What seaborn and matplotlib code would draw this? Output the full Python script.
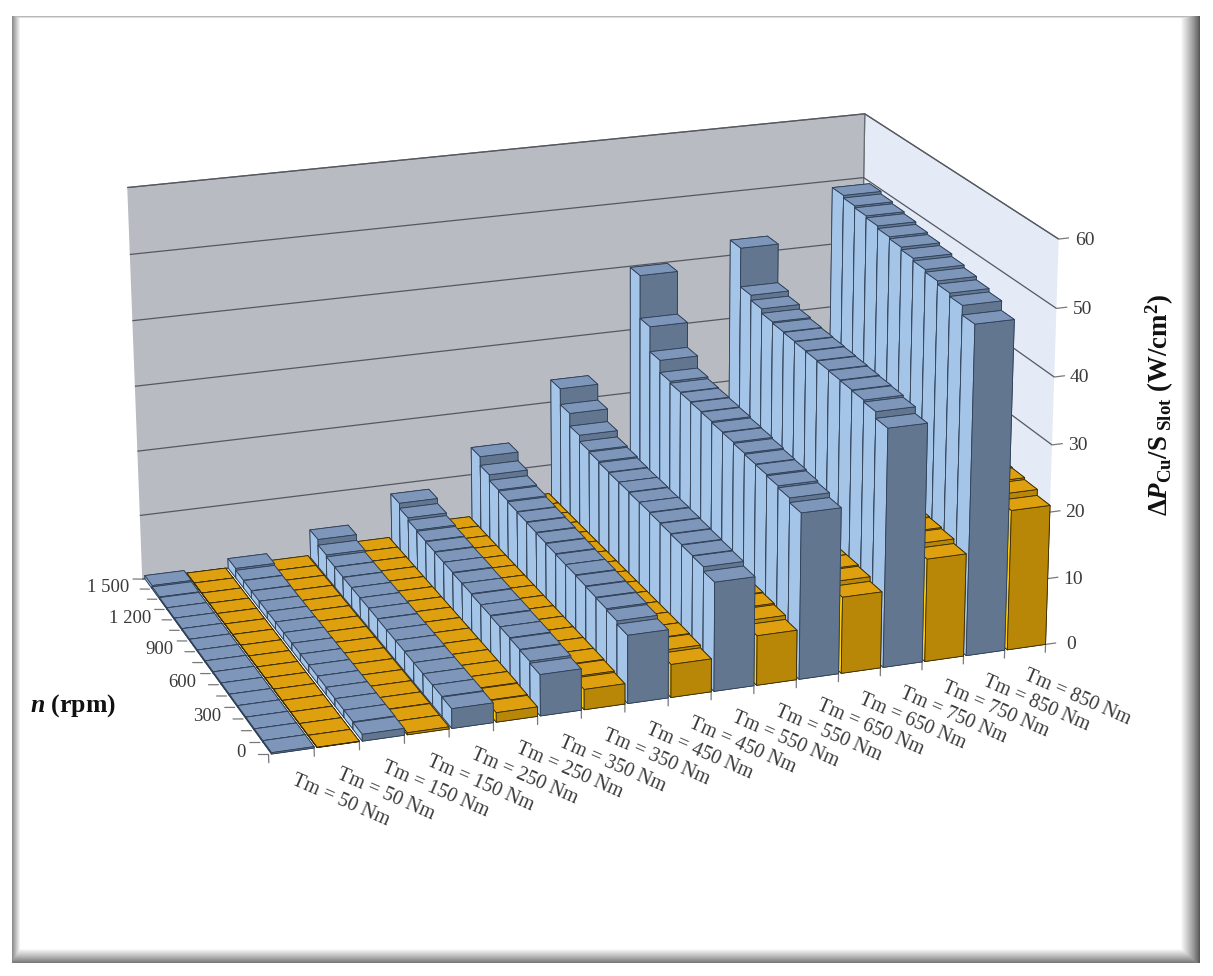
import numpy as np
import matplotlib
matplotlib.use('Agg')
import matplotlib.pyplot as plt
from mpl_toolkits.mplot3d import proj3d
import seaborn as sns

# ---------- data ----------
tm_labels = ["Tm = 50 Nm", "Tm = 50 Nm", "Tm = 150 Nm", "Tm = 150 Nm", "Tm = 250 Nm", "Tm = 250 Nm",
             "Tm = 350 Nm", "Tm = 350 Nm", "Tm = 450 Nm", "Tm = 450 Nm", "Tm = 550 Nm", "Tm = 550 Nm",
             "Tm = 650 Nm", "Tm = 650 Nm", "Tm = 750 Nm", "Tm = 750 Nm", "Tm = 850 Nm", "Tm = 850 Nm"]
speed_labels = ["0", "300", "600", "900", "1 200", "1 500"]
z_ticks = [0, 10, 20, 30, 40, 50, 60]

# rows: n = 0, 100, ... rpm (the highest torques stop before 1 500 rpm)
blue_50 = [0.2, 0.2, 0.2, 0.2, 0.2, 0.2, 0.2, 0.2, 0.2, 0.2, 0.2, 0.2, 0.2, 0.2, 0.3, 0.5]
blue_150 = [1.0, 1.1, 1.1, 1.1, 1.1, 1.1, 1.1, 1.1, 1.1, 1.1, 1.1, 1.1, 1.1, 1.15, 1.2, 1.5]
blue_250 = [2.9, 3.0, 3.0, 3.0, 3.0, 3.05, 3.05, 3.05, 3.1, 3.1, 3.1, 3.1, 3.15, 3.2, 3.5, 4.4]
blue_350 = [6.1, 6.4, 6.5, 6.6, 6.6, 6.7, 6.7, 6.8, 6.8, 6.9, 6.9, 7.0, 7.1, 7.3, 7.7, 8.5]
blue_450 = [10.1, 10.6, 10.8, 10.9, 11.0, 11.1, 11.1, 11.2, 11.3, 11.4, 11.5, 11.6, 11.8, 12.0, 12.9, 14.3]
blue_550 = [16.2, 16.9, 17.0, 17.1, 17.2, 17.3, 17.4, 17.4, 17.5, 17.5, 17.6, 17.8, 18.0, 19.0, 21.0, 23.5]
blue_650 = [24.7, 25.4, 25.7, 25.9, 26.0, 26.2, 26.4, 26.5, 26.7, 26.8, 26.9, 27.0, 27.3, 29.2, 33.1, 39.8]
blue_750 = [35.5, 36.5, 36.8, 36.9, 37.0, 37.1, 37.2, 37.3, 37.4, 37.5, 37.7, 38.4, 39.2, 45.2]
blue_850 = [49.1, 50.5, 51.0, 51.5, 51.9, 52.3, 52.7, 53.0, 53.4, 53.7, 54.0, 54.4]

gold_50 = [0.05, 0.05, 0.05, 0.05, 0.05, 0.05, 0.05, 0.05, 0.05, 0.05, 0.05, 0.05, 0.05, 0.05, 0.05, 0.05]
gold_150 = [0.3, 0.3, 0.35, 0.35, 0.35, 0.35, 0.35, 0.35, 0.35, 0.35, 0.35, 0.35, 0.35, 0.35, 0.35, 0.35]
gold_250 = [1.4, 1.5, 1.6, 1.6, 1.6, 1.6, 1.6, 1.6, 1.6, 1.6, 1.6, 1.6, 1.6, 1.6, 1.6, 1.6]
gold_350 = [3.0, 3.2, 3.3, 3.3, 3.3, 3.3, 3.3, 3.3, 3.3, 3.3, 3.3, 3.3, 3.3, 3.3, 3.3, 3.3]
gold_450 = [4.9, 5.3, 5.4, 5.4, 5.4, 5.4, 5.4, 5.4, 5.4, 5.4, 5.4, 5.4, 5.4, 5.4, 5.4, 5.4]
gold_550 = [7.4, 8.0, 8.2, 8.3, 8.3, 8.3, 8.3, 8.3, 8.3, 8.3, 8.3, 8.3, 8.3, 8.3, 8.3, 8.3]
gold_650 = [11.4, 12.1, 12.3, 12.3, 12.3, 12.3, 12.3, 12.3, 12.3, 12.3, 12.3, 12.3, 12.3, 12.3, 12.3, 12.3]
gold_750 = [15.4, 16.1, 16.3, 16.4, 16.4, 16.4, 16.4, 16.4, 16.4, 16.4, 16.4, 16.4, 16.4, 16.4]
gold_850 = [21.0, 21.9, 22.2, 22.3, 22.3, 22.3, 22.3, 22.3, 22.3, 22.3, 22.3, 22.3]

series = [blue_50, gold_50, blue_150, gold_150, blue_250, gold_250, blue_350, gold_350, blue_450, gold_450,
          blue_550, gold_550, blue_650, gold_650, blue_750, gold_750, blue_850, gold_850]

# ---------- style ----------
sns.set_theme(style="white")
plt.rcParams['font.family'] = ['Liberation Serif', 'DejaVu Serif']
plt.rcParams['mathtext.fontset'] = 'custom'
plt.rcParams['mathtext.rm'] = 'Liberation Serif:bold'
plt.rcParams['mathtext.it'] = 'Liberation Serif:italic:bold'
plt.rcParams['mathtext.bf'] = 'Liberation Serif:bold'

BLUE_FACES = dict(top='#7D96BA', front='#62768F', left='#A4C4E8', edge='#2F4057')
GOLD_FACES = dict(top='#DFA010', front='#B88708', left='#FFCC00', edge='#3A2C00')
TEXT = '#3A3A3A'

fig = plt.figure(figsize=(12.13, 9.76), dpi=100, facecolor='white')

# bevelled frame behind the chart
W, H = 1213, 976
bg = fig.add_axes([0, 0, 1, 1], zorder=-5)
yy, xx = np.mgrid[0:H, 0:W] + 0.5
L, R, T, B = 11.5, 1200.5, 15.5, 963.5
inside = (xx > L) & (xx < R) & (yy > T) & (yy < B)
shade_l = np.clip((xx - L) / 9.0, 0, 1) * 0.50 + 0.50
shade_r = np.clip((R - xx) / 20.0, 0, 1) ** 0.8 * 0.72 + 0.28
shade_t = np.clip((yy - T) / 3.0, 0, 1) * 0.42 + 0.58
shade_b = np.clip((B - yy) / 15.0, 0, 1) ** 0.9 * 0.58 + 0.42
img = np.where(inside, np.minimum.reduce([shade_l, shade_r, shade_t, shade_b]), 1.0)
bg.imshow(img, cmap='gray', vmin=0, vmax=1, aspect='auto', interpolation='nearest')
bg.set_axis_off()

# 3D chart
ax = fig.add_axes([0.06003, 0.05055, 0.82140, 1.02086], projection='3d', computed_zorder=False)
ax.patch.set_alpha(0)
ax.set_xlim(0, 18)
ax.set_ylim(0, 16)
ax.set_zlim(0, 60)
ax.view_init(19.271, -109.403, 0.213)
ax.set_proj_type('persp', focal_length=0.8414)
ax.set_box_aspect((1.9012, 1.1419, 1.0))

ax.xaxis.set_pane_color('#E4EAF6')
ax.yaxis.set_pane_color('#B8BBC1')
ax.zaxis.set_pane_color((1, 1, 1, 0))
ax.xaxis.pane.set_edgecolor('#6A6D72')
ax.yaxis.pane.set_edgecolor('#6A6D72')
ax.zaxis.pane.set_edgecolor((1, 1, 1, 0))
ax.xaxis.pane.set_linewidth(0.9)
ax.yaxis.pane.set_linewidth(0.9)

ax.set_xticks([])
ax.set_yticks([])
ax.set_zticks(z_ticks)
ax.set_zticklabels([])
ax.grid(True)
ax.zaxis._axinfo['grid'].update(color='#55585E', linewidth=0.9)
ax.zaxis._axinfo['tick'].update(inward_factor=0, outward_factor=0)
for axis in (ax.xaxis, ax.yaxis, ax.zaxis):
    axis.line.set_color((0, 0, 0, 0))

# bars, painted from the far right/back corner to the near left corner
BAR_GAP = 0.065
order = 0
for i in range(len(series) - 1, -1, -1):
    st = BLUE_FACES if i % 2 == 0 else GOLD_FACES
    # order: -z, +z, -y, +y, -x, +x
    faces = [st['front'], st['top'], st['front'], st['front'], st['left'], st['left']]
    for j in range(len(series[i]) - 1, -1, -1):
        c = ax.bar3d(i + BAR_GAP, j, 0, 1 - BAR_GAP, 1, series[i][j], color=faces, shade=False,
                     edgecolor=st['edge'], linewidth=0.6)
        c.set_zorder(10 + order)
        order += 1


def label(x, y, z, s, **kw):
    """Text anchored at a 3D data point through the axes' own projection."""
    px, py, _ = proj3d.proj_transform(x, y, z, ax.get_proj())
    return ax.text2D(px, py, s, transform=ax.transData, color=TEXT, **kw)


# ticks and labels
tick_kw = dict(color='#77797C', linewidth=0.9, zorder=2)
for i in range(len(series) + 1):
    ax.plot([i, i], [0, 0], [0, -1.2], **tick_kw)
for j in range(17):
    ax.plot([0, -0.22], [j, j], [0, 0.2], **tick_kw)
for z in z_ticks:
    ax.plot([18, 18.25], [0, 0], [z, z], **tick_kw)
    label(18.62, 0, z - 0.6, str(z), ha='center', va='center', fontsize=14)
for i, lab in enumerate(tm_labels):
    label(i + 0.6, 0, -3, lab, ha='left', va='top', rotation=-23.5, rotation_mode='anchor', fontsize=14.5)
for k, lab in enumerate(speed_labels):
    label(-0.4, 3 * k + 0.5, -0.2, lab, ha='right', va='center', fontsize=13.5)

fig.text(30 / W, 1 - 706 / H, r'$\mathit{n}$ (rpm)', fontsize=18.5, fontweight='bold', color='#111111',
         ha='left', va='center')
fig.text(1160 / W, 1 - 405 / H,
         r'$\mathit{\Delta P}_{\mathrm{Cu}}/\mathrm{S}_{\ \mathrm{Slot}}\ (\mathrm{W/cm^2})$',
         fontsize=19.4, rotation=90, color='#111111', ha='center', va='center')

fig.savefig('out.png', dpi=100)
